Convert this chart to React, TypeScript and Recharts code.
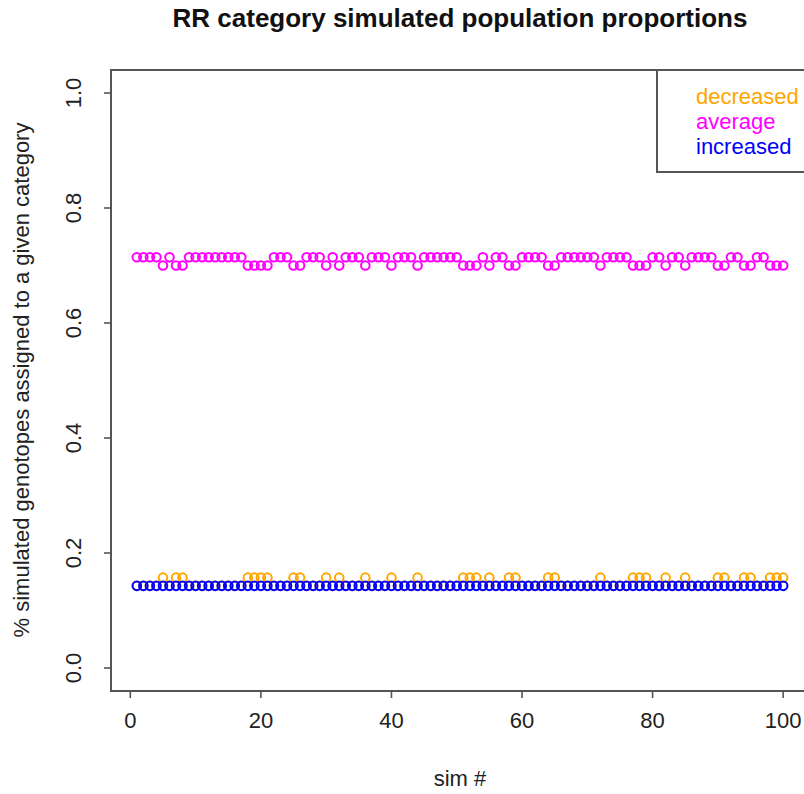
import React from "react";
import { ScatterChart, Scatter, XAxis, YAxis, ReferenceArea } from "recharts";

// simulation index
const sims = [
  1, 2, 3, 4, 5, 6, 7, 8, 9, 10, 11, 12, 13, 14, 15, 16, 17, 18, 19, 20,
  21, 22, 23, 24, 25, 26, 27, 28, 29, 30, 31, 32, 33, 34, 35, 36, 37, 38, 39, 40,
  41, 42, 43, 44, 45, 46, 47, 48, 49, 50, 51, 52, 53, 54, 55, 56, 57, 58, 59, 60,
  61, 62, 63, 64, 65, 66, 67, 68, 69, 70, 71, 72, 73, 74, 75, 76, 77, 78, 79, 80,
  81, 82, 83, 84, 85, 86, 87, 88, 89, 90, 91, 92, 93, 94, 95, 96, 97, 98, 99, 100,
];

const decreased = [
  0.1429, 0.1429, 0.1429, 0.1429, 0.1571, 0.1429, 0.1571, 0.1571, 0.1429, 0.1429,
  0.1429, 0.1429, 0.1429, 0.1429, 0.1429, 0.1429, 0.1429, 0.1571, 0.1571, 0.1571,
  0.1571, 0.1429, 0.1429, 0.1429, 0.1571, 0.1571, 0.1429, 0.1429, 0.1429, 0.1571,
  0.1429, 0.1571, 0.1429, 0.1429, 0.1429, 0.1571, 0.1429, 0.1429, 0.1429, 0.1571,
  0.1429, 0.1429, 0.1429, 0.1571, 0.1429, 0.1429, 0.1429, 0.1429, 0.1429, 0.1429,
  0.1571, 0.1571, 0.1571, 0.1429, 0.1571, 0.1429, 0.1429, 0.1571, 0.1571, 0.1429,
  0.1429, 0.1429, 0.1429, 0.1571, 0.1571, 0.1429, 0.1429, 0.1429, 0.1429, 0.1429,
  0.1429, 0.1571, 0.1429, 0.1429, 0.1429, 0.1429, 0.1571, 0.1571, 0.1571, 0.1429,
  0.1429, 0.1571, 0.1429, 0.1429, 0.1571, 0.1429, 0.1429, 0.1429, 0.1429, 0.1571,
  0.1571, 0.1429, 0.1429, 0.1571, 0.1571, 0.1429, 0.1429, 0.1571, 0.1571, 0.1571,
];

const average = [
  0.7143, 0.7143, 0.7143, 0.7143, 0.7, 0.7143, 0.7, 0.7, 0.7143, 0.7143,
  0.7143, 0.7143, 0.7143, 0.7143, 0.7143, 0.7143, 0.7143, 0.7, 0.7, 0.7,
  0.7, 0.7143, 0.7143, 0.7143, 0.7, 0.7, 0.7143, 0.7143, 0.7143, 0.7,
  0.7143, 0.7, 0.7143, 0.7143, 0.7143, 0.7, 0.7143, 0.7143, 0.7143, 0.7,
  0.7143, 0.7143, 0.7143, 0.7, 0.7143, 0.7143, 0.7143, 0.7143, 0.7143, 0.7143,
  0.7, 0.7, 0.7, 0.7143, 0.7, 0.7143, 0.7143, 0.7, 0.7, 0.7143,
  0.7143, 0.7143, 0.7143, 0.7, 0.7, 0.7143, 0.7143, 0.7143, 0.7143, 0.7143,
  0.7143, 0.7, 0.7143, 0.7143, 0.7143, 0.7143, 0.7, 0.7, 0.7, 0.7143,
  0.7143, 0.7, 0.7143, 0.7143, 0.7, 0.7143, 0.7143, 0.7143, 0.7143, 0.7,
  0.7, 0.7143, 0.7143, 0.7, 0.7, 0.7143, 0.7143, 0.7, 0.7, 0.7,
];

const increased = [
  0.1429, 0.1429, 0.1429, 0.1429, 0.1429, 0.1429, 0.1429, 0.1429, 0.1429, 0.1429,
  0.1429, 0.1429, 0.1429, 0.1429, 0.1429, 0.1429, 0.1429, 0.1429, 0.1429, 0.1429,
  0.1429, 0.1429, 0.1429, 0.1429, 0.1429, 0.1429, 0.1429, 0.1429, 0.1429, 0.1429,
  0.1429, 0.1429, 0.1429, 0.1429, 0.1429, 0.1429, 0.1429, 0.1429, 0.1429, 0.1429,
  0.1429, 0.1429, 0.1429, 0.1429, 0.1429, 0.1429, 0.1429, 0.1429, 0.1429, 0.1429,
  0.1429, 0.1429, 0.1429, 0.1429, 0.1429, 0.1429, 0.1429, 0.1429, 0.1429, 0.1429,
  0.1429, 0.1429, 0.1429, 0.1429, 0.1429, 0.1429, 0.1429, 0.1429, 0.1429, 0.1429,
  0.1429, 0.1429, 0.1429, 0.1429, 0.1429, 0.1429, 0.1429, 0.1429, 0.1429, 0.1429,
  0.1429, 0.1429, 0.1429, 0.1429, 0.1429, 0.1429, 0.1429, 0.1429, 0.1429, 0.1429,
  0.1429, 0.1429, 0.1429, 0.1429, 0.1429, 0.1429, 0.1429, 0.1429, 0.1429, 0.1429,
];

const xTicks = [0, 20, 40, 60, 80, 100];
const yTicks = [0, 0.2, 0.4, 0.6, 0.8, 1.0];

const seriesNames = ["decreased", "average", "increased"];
const seriesColors = ["#FFA500", "#FF00FF", "#0000FF"];
const seriesValues = [decreased, average, increased];

const FONT = '"Liberation Sans", Arial, Helvetica, sans-serif';
const LINE = "#555";

const toPoints = (vals: number[]) => sims.map((s, i) => ({ sim: s, value: vals[i] }));

const ringShape = (color: string) => (props: any) => (
  <circle cx={props.cx} cy={props.cy} r={4.3} fill="none" stroke={color} strokeWidth={2} />
);

const XTick = (props: any) => (
  <text x={props.x} y={728} textAnchor="middle" fontSize={22} fontFamily={FONT} fill="#222">
    {props.payload.value}
  </text>
);

const YTick = (props: any) => (
  <text
    x={0}
    y={0}
    transform={`translate(81,${props.y}) rotate(-90)`}
    textAnchor="middle"
    fontSize={22}
    fontFamily={FONT}
    fill="#222"
  >
    {Number(props.payload.value).toFixed(1)}
  </text>
);

const App: React.FC = () => {
  return (
    <div style={{ position: "absolute", left: 0, top: 0, width: 804, height: 794, overflow: "hidden", background: "#fff" }}>
      <ScatterChart width={820} height={794} margin={{ top: 70, right: 11, bottom: 43, left: 0 }}>
        <XAxis
          type="number"
          dataKey="sim"
          domain={[-2.96, 103.96]}
          ticks={xTicks}
          allowDataOverflow
          axisLine={false}
          tickLine={{ stroke: LINE, strokeWidth: 1.6 }}
          tickSize={7}
          height={60}
          tick={<XTick />}
        />
        <YAxis
          type="number"
          dataKey="value"
          domain={[-0.04, 1.04]}
          ticks={yTicks}
          allowDataOverflow
          axisLine={false}
          tickLine={{ stroke: LINE, strokeWidth: 1.6 }}
          tickSize={7}
          width={111}
          tick={<YTick />}
        />
        <ReferenceArea
          x1={-2.96}
          x2={103.96}
          y1={-0.04}
          y2={1.04}
          fill="none"
          fillOpacity={0}
          stroke={LINE}
          strokeWidth={2}
          ifOverflow="visible"
        />
        {seriesNames.map((name, i) => (
          <Scatter
            key={name}
            name={name}
            data={toPoints(seriesValues[i])}
            shape={ringShape(seriesColors[i])}
            isAnimationActive={false}
          />
        ))}
      </ScatterChart>
      <svg width={804} height={794} style={{ position: "absolute", left: 0, top: 0, pointerEvents: "none" }}>
        <text x={460} y={27} textAnchor="middle" fontSize={26} fontWeight="bold" fontFamily={FONT} fill="#111">
          RR category simulated population proportions
        </text>
        <text x={0} y={0} transform="translate(29,380) rotate(-90)" textAnchor="middle" fontSize={22} fontFamily={FONT} fill="#222">
          % simulated genotopes assigned to a given category
        </text>
        <text x={460} y={786} textAnchor="middle" fontSize={22} fontFamily={FONT} fill="#222">
          sim #
        </text>
        <rect x={657} y={70} width={200} height={102} fill="#fff" stroke={LINE} strokeWidth={2} />
        {seriesNames.map((name, i) => (
          <text key={name} x={696} y={104 + i * 25} fontSize={22} fontFamily={FONT} fill={seriesColors[i]}>
            {name}
          </text>
        ))}
      </svg>
    </div>
  );
};

export default App;
